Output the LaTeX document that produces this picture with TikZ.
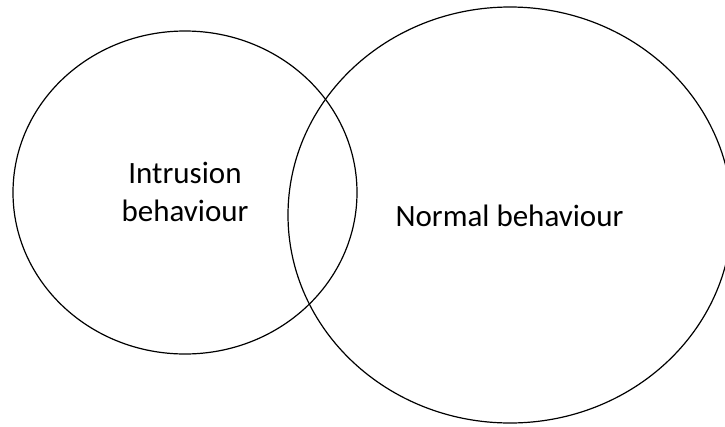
\documentclass[tikz,border=0pt]{standalone}
\usepackage{fontspec}
\setmainfont{Carlito}
\begin{document}
\begin{tikzpicture}[x=1pt,y=-1pt,
  venn/.style={line width=1.2pt, draw=black},
  lbl/.style={font=\fontsize{31}{38}\selectfont, align=center, inner sep=0pt, anchor=base}]
\useasboundingbox (0,0) rectangle (725,426);
\draw[venn] (185,192.5) ellipse [x radius=172, y radius=161.5];
\draw[venn] (510,215) ellipse [x radius=222, y radius=208];
\node[lbl] (intr) at (185,221) {Intrusion\\behaviour};
\node[lbl] (norm) at (509.5,226.7) {Normal behaviour};
\end{tikzpicture}
\end{document}
